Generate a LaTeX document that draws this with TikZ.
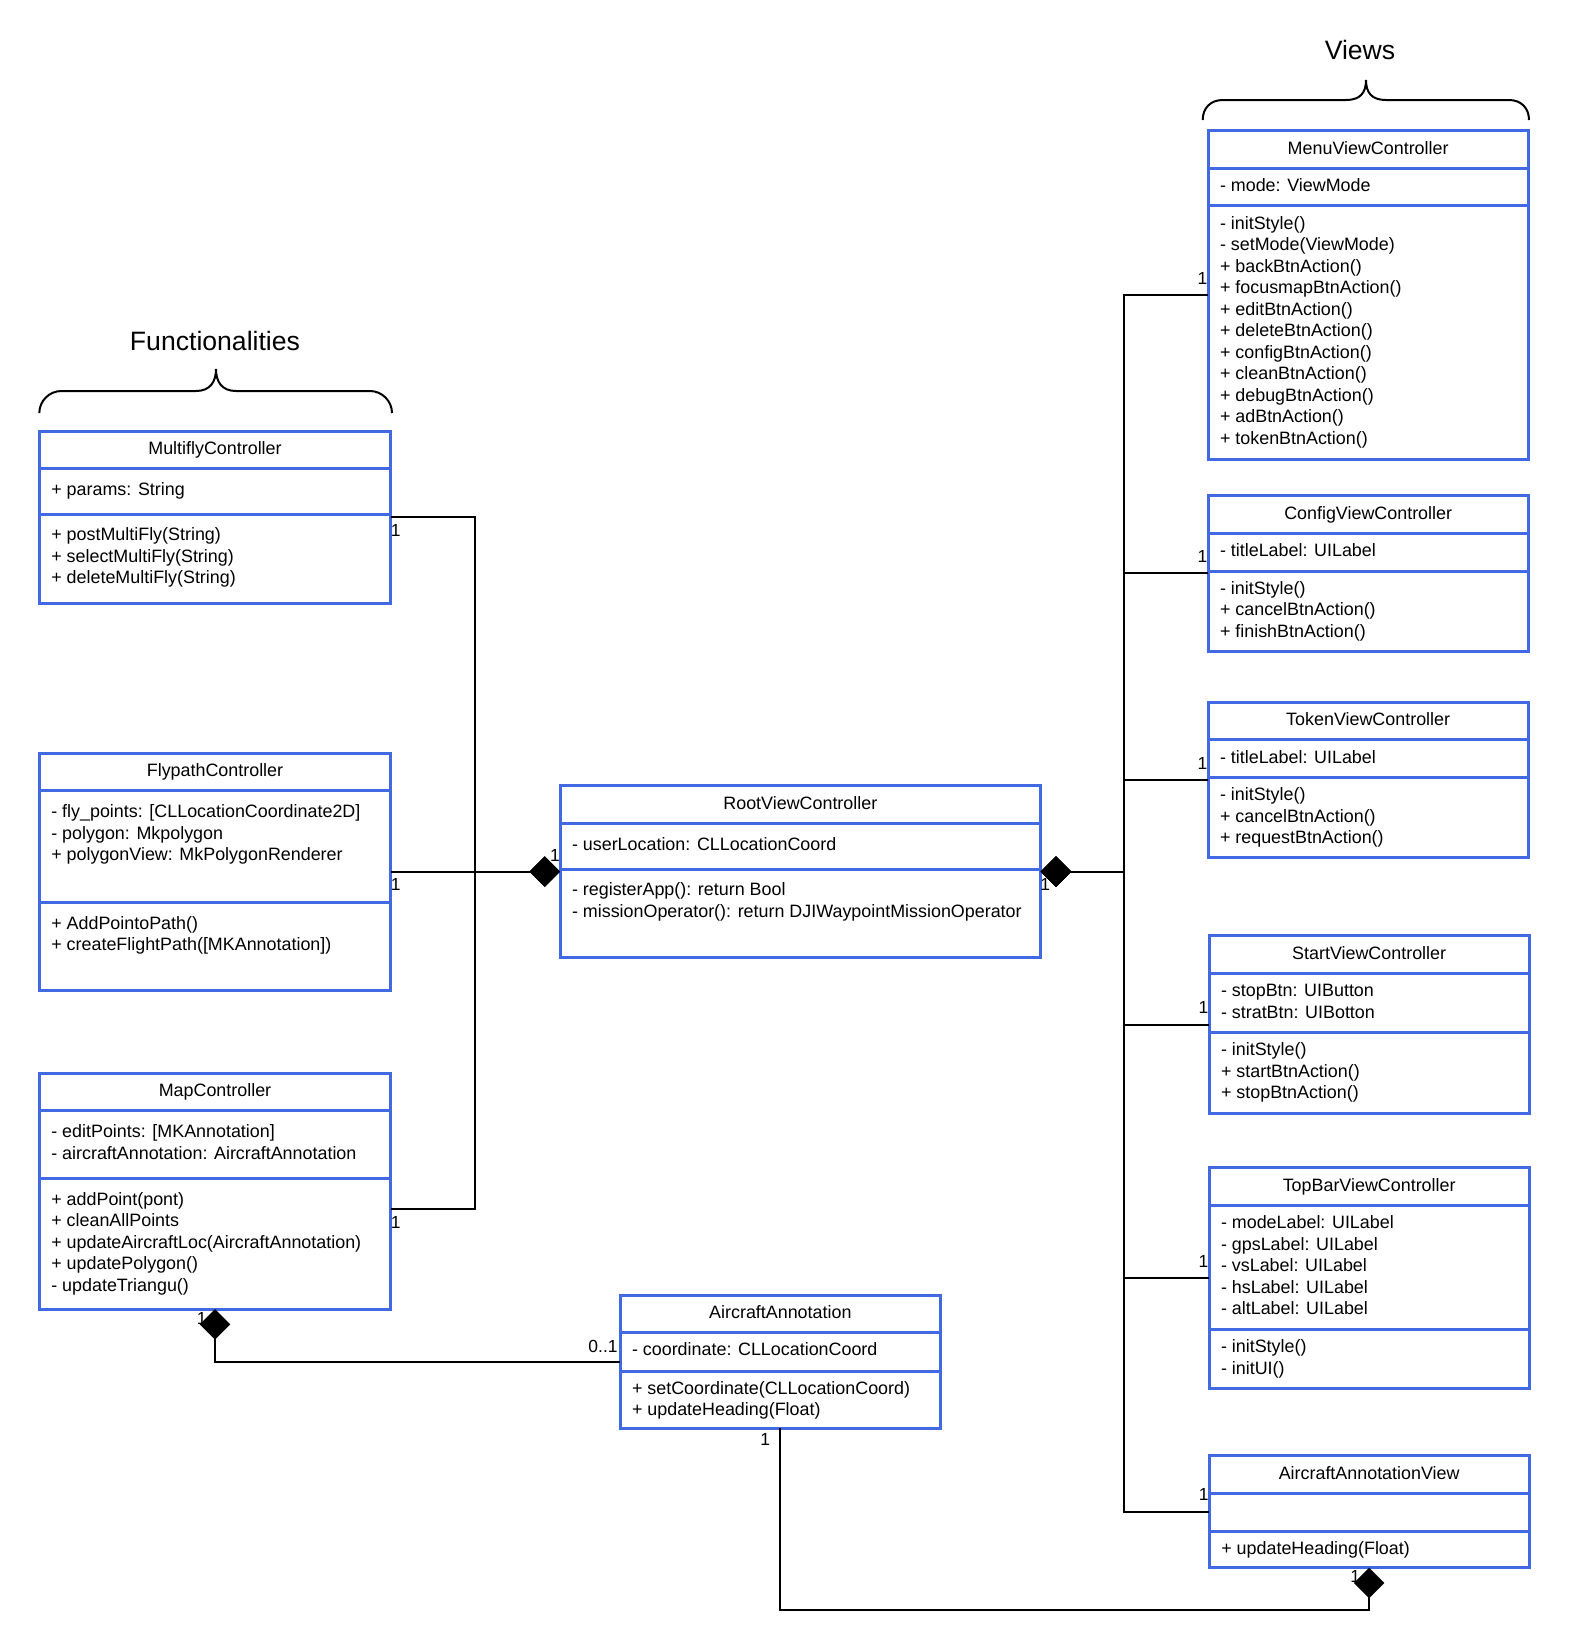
\documentclass[tikz,border=0pt]{standalone}
\usepackage{fontspec}
\setmainfont{Liberation Sans}
\usetikzlibrary{positioning,calc,arrows.meta}

\definecolor{umlblue}{HTML}{4169E1}
\newcommand\umlfont{\fontsize{17.9}{21.5}\selectfont}
\newcommand\umlrows{\raggedright\leftskip=12pt\strut}

\tikzset{
	umlpart/.style={draw=umlblue, line width=3pt, inner sep=0pt, outer sep=0pt, font=\umlfont},
	umlhead/.style={umlpart, anchor=north west, minimum height=37.5, text height=13pt, text depth=3.8pt},
	comp/.style={line width=2pt, -{Diamond[length=30.5pt,width=30.5pt]}},
	mult/.style={inner sep=0pt, font=\fontsize{17.5}{20}\selectfont},
	grouptitle/.style={font=\fontsize{26.6}{32}\selectfont},
	brace/.style={line width=2pt}
}

% name, top left, width, top pad, attribute height, method height, title, attributes, methods
\newcommand\umlclass[9]{%
	\node[umlhead, minimum width=#3] (#1) at (#2) {#7};
	\node[umlpart, below=0pt of #1] (#1-a) {\parbox[t][#5pt][t]{#3pt}{\vspace*{#4pt}\umlrows #8}};
	\node[umlpart, below=0pt of #1-a] (#1-m) {\parbox[t][#6pt][t]{#3pt}{\vspace*{#4pt}\umlrows #9}};
	\coordinate (#1-w) at ($(#1.north west)!.5!(#1-m.south west)$);
	\coordinate (#1-e) at ($(#1.north east)!.5!(#1-m.south east)$);
	\coordinate (#1-s) at (#1-m.south);
}

% left x, right x, tip x, top y, bottom y
\newcommand\groupbrace[5]{%
	\draw[brace] (#1,#5) .. controls +(0,-12) and +(-12,0) .. ({#1+(#5-#4)/2},{(#4+#5)/2})
		-- ({#3-20},{(#4+#5)/2}) .. controls +(14,0) and +(0,13) .. (#3,#4)
		.. controls +(0,13) and +(-14,0) .. ({#3+20},{(#4+#5)/2})
		-- ({#2-(#5-#4)/2},{(#4+#5)/2}) .. controls +(12,0) and +(0,-12) .. (#2,#5);
}

\begin{document}
\begin{tikzpicture}[x=1pt, y=-1pt]
	\useasboundingbox (0,0) rectangle (1570,1650);

	\node[grouptitle] (functionalities) at (215,341) {Functionalities};
	\node[grouptitle] (views) at (1360,50) {Views};
	\groupbrace{39.3}{392}{216}{369}{413}
	\groupbrace{1202.7}{1529}{1366}{80}{120}

	\umlclass{multifly}{39.3,431}{351.4}{11.75}{45.5}{89.3}{MultiflyController}
		{+ params: String}
		{+ postMultiFly(String)\\+ selectMultiFly(String)\\+ deleteMultiFly(String)}
	\umlclass{flypath}{39.3,753.3}{351.4}{11.75}{111.5}{87.7}{FlypathController}
		{- fly\_points: [CLLocationCoordinate2D]\\- polygon: Mkpolygon\\+ polygonView: MkPolygonRenderer}
		{+ AddPointoPath()\\+ createFlightPath([MKAnnotation])}
	\umlclass{map}{39.3,1073.3}{351.4}{11.75}{67.5}{130.7}{MapController}
		{- editPoints: [MKAnnotation]\\- aircraftAnnotation: AircraftAnnotation}
		{+ addPoint(pont)\\+ cleanAllPoints\\+ updateAircraftLoc(AircraftAnnotation)\\+ updatePolygon()\\- updateTriangu()}
	\umlclass{root}{560,785.8}{480.7}{11.75}{45.8}{88.4}{RootViewController}
		{- userLocation: CLLocationCoord}
		{- registerApp(): return Bool\\- missionOperator(): return DJIWaypointMissionOperator}
	\umlclass{aa}{620,1295}{320.7}{8.25}{38.5}{57.3}{AircraftAnnotation}
		{- coordinate: CLLocationCoord}
		{+ setCoordinate(CLLocationCoord)\\+ updateHeading(Float)}
	\umlclass{menu}{1208,130.7}{320.3}{8.25}{37.5}{253.6}{MenuViewController}
		{- mode: ViewMode}
		{- initStyle()\\- setMode(ViewMode)\\+ backBtnAction()\\+ focusmapBtnAction()\\+ editBtnAction()\\+ deleteBtnAction()\\+ configBtnAction()\\+ cleanBtnAction()\\+ debugBtnAction()\\+ adBtnAction()\\+ tokenBtnAction()}
	\umlclass{config}{1208,495.7}{320.3}{8.25}{37.8}{80}{ConfigViewController}
		{- titleLabel: UILabel}
		{- initStyle()\\+ cancelBtnAction()\\+ finishBtnAction()}
	\umlclass{token}{1208,702.3}{320.3}{8.25}{37.5}{80.4}{TokenViewController}
		{- titleLabel: UILabel}
		{- initStyle()\\+ cancelBtnAction()\\+ requestBtnAction()}
	\umlclass{start}{1209,935.7}{320.3}{8.25}{59.1}{81}{StartViewController}
		{- stopBtn: UIButton\\- stratBtn: UIBotton}
		{- initStyle()\\+ startBtnAction()\\+ stopBtnAction()}
	\umlclass{topbar}{1209,1167.7}{320.3}{8.25}{124.1}{59}{TopBarViewController}
		{- modeLabel: UILabel\\- gpsLabel: UILabel\\- vsLabel: UILabel\\- hsLabel: UILabel\\- altLabel: UILabel}
		{- initStyle()\\- initUI()}
	\umlclass{aaview}{1209.3,1455.7}{319.7}{8.25}{37.8}{36.7}{AircraftAnnotationView}
		{}
		{+ updateHeading(Float)}

	\coordinate (bus-l) at ($(root-w)+(-85,0)$);
	\coordinate (bus-r) at ($(root-e)+(83.3,0)$);
	\coordinate (map-e) at ([yshift=-31pt]map-m.north east);

	\foreach \c in {multifly,flypath,map}{
		\draw[comp] (\c-e) -| (bus-l) -- (root-w);
		\node[mult] at ([shift={(5,13)}]\c-e) {1};
	}
	\foreach \c in {menu,config,token,start,topbar,aaview}{
		\draw[comp] (\c-w) -| (bus-r) -- (root-e);
		\node[mult] at ([shift={(-5.5,-16.8)}]\c-w) {1};
	}
	\node[mult] at ([shift={(-5,-16)}]root-w) {1};
	\node[mult] at ([shift={(4.5,12.5)}]root-e) {1};

	\draw[comp] (aa-w) -| (map-s);
	\draw[comp] (aa-s) |- ([yshift=-42pt]aaview-s) -- (aaview-s);
	\node[mult] at ([shift={(-13.3,9.3)}]map-s) {1};
	\node[mult] at ([shift={(-17,-15.5)}]aa-w) {0..1};
	\node[mult] at ([shift={(-15,10.7)}]aa-s) {1};
	\node[mult] at ([shift={(-14,9)}]aaview-s) {1};
\end{tikzpicture}
\end{document}
